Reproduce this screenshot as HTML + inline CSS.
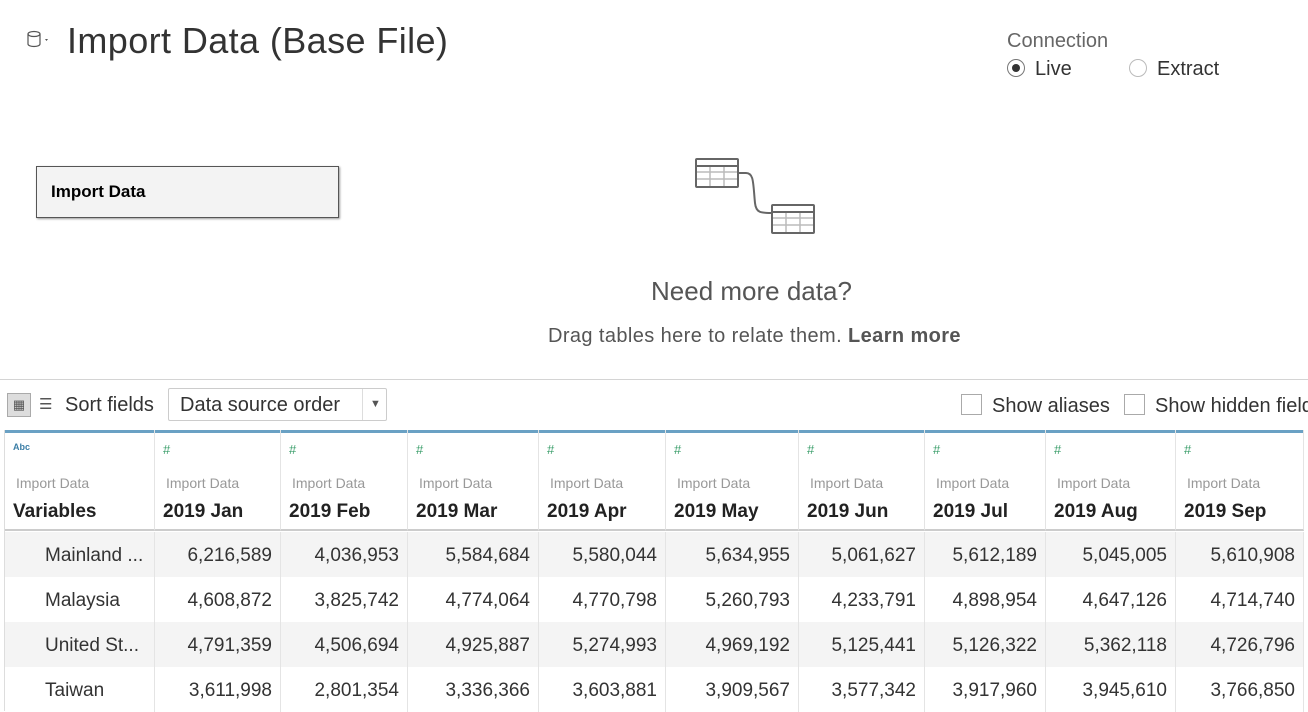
<!DOCTYPE html>
<html><head><meta charset="utf-8"><style>
body{margin:0;width:1308px;height:711px;overflow:hidden;background:#fff;font-family:"Liberation Sans",sans-serif;color:#333;position:relative}
.a{position:absolute;white-space:nowrap}
.cell{position:absolute;box-sizing:border-box;border-right:1px solid #e4e4e4;overflow:hidden}
</style></head><body>
<svg class="a" style="left:26px;top:30px" width="28" height="20"><ellipse cx="8" cy="4" rx="6" ry="2.5" fill="none" stroke="#555" stroke-width="1.2"/><path d="M2 4v10c0 1.5 2.7 2.5 6 2.5s6-1 6-2.5V4" fill="none" stroke="#555" stroke-width="1.2"/><path d="M19 9l3 0l-1.5 2z" fill="#555"/></svg>
<div class="a" style="left:67px;top:20px;font-size:36px;letter-spacing:0.4px;color:#333">Import Data (Base File)</div>
<div class="a" style="left:1007px;top:30px;font-size:20px;color:#666">Connection</div>
<div class="a" style="left:1007px;top:58px;font-size:20px;color:#333"><span style="display:inline-block;width:16px;height:16px;border:1px solid #777;border-radius:50%;vertical-align:-2px;position:relative;margin-right:10px"><span style="position:absolute;left:4px;top:4px;width:8px;height:8px;border-radius:50%;background:#333"></span></span>Live</div>
<div class="a" style="left:1129px;top:58px;font-size:20px;color:#333"><span style="display:inline-block;width:16px;height:16px;border:1px solid #bbb;border-radius:50%;vertical-align:-2px;margin-right:10px"></span>Extract</div>
<div class="a" style="left:36px;top:166px;width:303px;height:52px;border:1px solid #555;background:#f3f3f3;box-shadow:1px 1px 2px #999;box-sizing:border-box;font-weight:bold;font-size:17px;padding:15px 0 0 14px;color:#000">Import Data</div>
<svg class="a" style="left:690px;top:155px" width="130" height="90">
<g fill="none" stroke="#bbb" stroke-width="1.5"><path d="M6 17h42M6 24h42M20 11v20M34 11v20M82 63h42M82 70h42M96 57v20M110 57v20"/></g>
<g fill="none" stroke="#666" stroke-width="2"><rect x="6" y="4" width="42" height="28" rx="1"/><path d="M6 11h42"/><rect x="82" y="50" width="42" height="28" rx="1"/><path d="M82 57h42"/><path d="M48 18h8c8 0 7 10 9 30c1 10 6 10 17 10"/></g></svg>
<div class="a" style="left:651px;top:276px;font-size:26px;color:#555">Need more data?</div>
<div class="a" style="left:548px;top:325px;font-size:20px;letter-spacing:0.4px;color:#555">Drag tables here to relate them. <b>Learn more</b></div>
<div class="a" style="left:0;top:379px;width:1308px;height:1px;background:#d4d4d4"></div>
<div class="a" style="left:7px;top:393px;width:24px;height:24px;background:#ddd;border:1px solid #aaa;box-sizing:border-box;font-size:13px;text-align:center;line-height:22px;color:#555">▦</div>
<div class="a" style="left:39px;top:395px;font-size:15px;color:#555">☰</div>
<div class="a" style="left:65px;top:394px;font-size:20px;color:#333">Sort fields</div>
<div class="a" style="left:168px;top:388px;width:219px;height:33px;border:1px solid #ccc;border-radius:2px;box-sizing:border-box;font-size:20px;padding:5px 0 0 11px;color:#333">Data source order<span style="position:absolute;left:193px;top:0;width:25px;height:31px;border-left:1px solid #ddd;text-align:center;font-size:11px;line-height:31px;color:#555">▼</span></div>
<div class="a" style="left:961px;top:394px;font-size:20px;color:#333"><span style="display:inline-block;width:19px;height:19px;border:1px solid #aaa;vertical-align:-3px;margin-right:10px"></span>Show aliases</div>
<div class="a" style="left:1124px;top:394px;font-size:20px;color:#333"><span style="display:inline-block;width:19px;height:19px;border:1px solid #aaa;vertical-align:-3px;margin-right:10px"></span>Show hidden fields</div>
<div id="grid"></div>
<script>
const columns=["Variables","2019 Jan","2019 Feb","2019 Mar","2019 Apr","2019 May","2019 Jun","2019 Jul","2019 Aug","2019 Sep"];
const rowLabels=["Mainland ...","Malaysia","United St...","Taiwan"];
const row0=["6,216,589","4,036,953","5,584,684","5,580,044","5,634,955","5,061,627","5,612,189","5,045,005","5,610,908"];
const row1=["4,608,872","3,825,742","4,774,064","4,770,798","5,260,793","4,233,791","4,898,954","4,647,126","4,714,740"];
const row2=["4,791,359","4,506,694","4,925,887","5,274,993","4,969,192","5,125,441","5,126,322","5,362,118","4,726,796"];
const row3=["3,611,998","2,801,354","3,336,366","3,603,881","3,909,567","3,577,342","3,917,960","3,945,610","3,766,850"];
const rows=[row0,row1,row2,row3];
const edges=[5,155,281,408,539,666,799,925,1046,1176,1304];
const g=document.getElementById('grid');
function mk(x,y,w,h,html,style){const d=document.createElement('div');d.className='cell';d.style.cssText=`left:${x}px;top:${y}px;width:${w}px;height:${h}px;`+style;d.innerHTML=html;g.appendChild(d);return d;}
const lb=document.createElement('div');lb.className='a';lb.style.cssText='left:4px;top:430px;width:1px;height:281px;background:#ddd';g.appendChild(lb);
columns.forEach((c,i)=>{const x=edges[i],w=edges[i+1]-x;
 const h=mk(x,430,w,101,`<div style="height:3px;background:#6aa1c4"></div><div style="position:absolute;left:8px;top:12px;font-size:${i?13:9}px;color:${i?'#3a9e6a':'#3b7ea6'};font-weight:${i?'normal':'bold'}">${i?'#':'Abc'}</div><div style="position:absolute;left:11px;top:45px;font-size:14px;color:#999">Import Data</div><div style="position:absolute;left:8px;top:71px;font-size:19px;font-weight:bold;color:#222">${c}</div>`,'border-bottom:2px solid #ccc;');
 
 
});
rows.forEach((r,ri)=>{const y=532+ri*45,bg=ri%2===0?'#f4f4f4':'#fff';
 const c0=mk(edges[0],y,edges[1]-edges[0],45,rowLabels[ri],`background:${bg};font-size:19px;padding:13px 0 0 40px;color:#333`);
 
 
 r.forEach((v,ci)=>{const x=edges[ci+1],w=edges[ci+2]-x;
  const c=mk(x,y,w,45,v,`background:${bg};font-size:19px;padding:13px 8px 0 0;text-align:right;color:#333`);
  
  
 });
});
</script>
</body></html>
